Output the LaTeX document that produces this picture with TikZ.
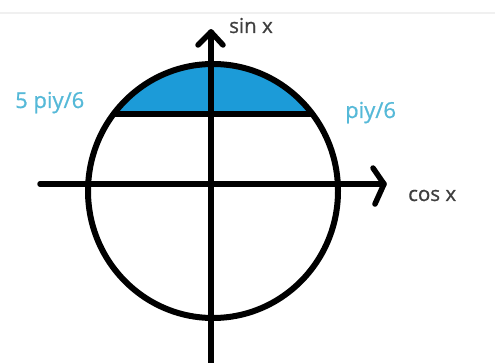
\documentclass[tikz,border=0pt]{standalone}
\usepackage{fontspec}
\setmainfont{Open Sans}
\newfontfamily\lblfont{Open Sans}[FakeBold=0.8]
\definecolor{fillblue}{HTML}{1C9BD8}
\definecolor{labelblue}{HTML}{55B9D8}
\definecolor{axistext}{HTML}{3F3F3F}
\tikzset{
  thick line/.style={line width=5.5pt, line cap=round, line join=round},
  circ line/.style={line width=6pt},
  axis label/.style={inner sep=0pt, anchor=base west, text=axistext, font=\lblfont\fontsize{20.5}{24}\selectfont},
  angle label/.style={inner sep=0pt, anchor=base west, text=labelblue, font=\lblfont\fontsize{22}{26}\selectfont},
}
\begin{document}
\begin{tikzpicture}[x=1pt,y=-1pt]
\useasboundingbox (0,0) rectangle (495,363);
\fill[white] (0,0) rectangle (495,363);
\draw[gray!12, line width=1.5pt] (0,13) -- (495,13);
% named points
\coordinate (c) at (213,191);
\coordinate (chl) at (113.6,114);
\coordinate (chr) at (312.4,114);
\coordinate (xl) at (40,184);
\coordinate (xr) at (384,184);
\coordinate (xa1) at (373,168);
\coordinate (xa2) at (375,204);
\coordinate (yb) at (211,370);
\coordinate (yt) at (211,32);
\coordinate (ya1) at (198,45);
\coordinate (ya2) at (223,45);
% blue segment
\begin{scope}
  \clip (0,0) rectangle (495,114);
  \fill[fillblue] (c) ellipse [x radius=125, y radius=127];
\end{scope}
% circle
\draw[circ line] (c) ellipse [x radius=125, y radius=127];
% chord
\draw[thick line] (chl) -- (chr);
% axes
\draw[thick line] (xl) -- (xr);
\draw[thick line] (xa1) -- (xr) -- (xa2);
\draw[thick line] (yb) -- (yt);
\draw[thick line] (ya1) -- (yt) -- (ya2);
% labels
\node[axis label] (sinl) at (229,33) {sin x};
\node[axis label] (cosl) at (408,201) {cos x};
\node[angle label] (pil) at (345,118) {piy/6};
\node[angle label] (fpil) at (15,108) {5 piy/6};
\end{tikzpicture}
\end{document}
